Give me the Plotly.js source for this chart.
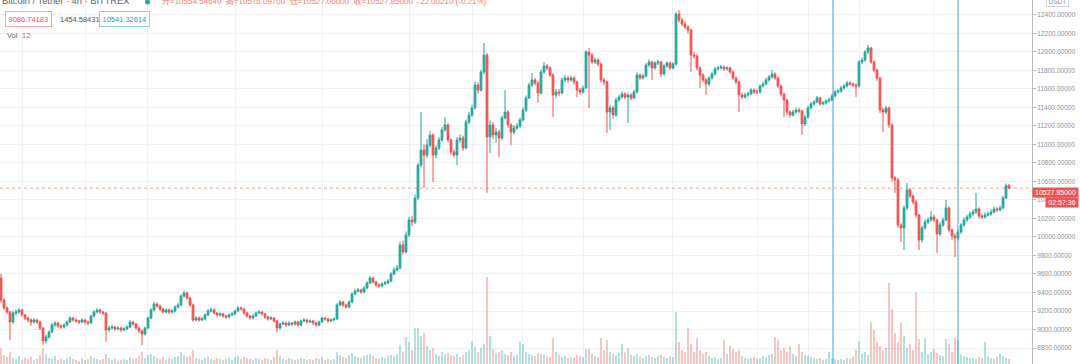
<!DOCTYPE html>
<html><head><meta charset="utf-8">
<script src="https://cdn.plot.ly/plotly-3.0.1.min.js"></script>
<style>html,body{margin:0;padding:0;background:#fff;overflow:hidden}#chart{width:1080px;height:364px}</style>
</head><body><div id="chart"></div>
<script>
// ---- data (BTC/USDT 4h, Bittrex) ----
const openP = [
9557,9319,9232,9189,9081,9178,9189,9211,9157,9124,
9103,9081,9103,9081,9016,8876,8919,8973,9049,9070,
9038,9027,9049,9081,9124,9103,9092,9081,9103,9081,
9070,9146,9189,9211,9189,9178,8995,9016,9027,9006,
9016,8995,9006,9027,9081,9059,9016,8984,8951,9016,
9124,9211,9276,9254,9222,9189,9211,9189,9200,9243,
9265,9362,9395,9341,9265,9103,9124,9103,9114,9157,
9200,9211,9178,9157,9168,9146,9135,9157,9168,9200,
9232,9222,9178,9146,9124,9146,9178,9189,9168,9135,
9114,9124,9092,9016,9059,9070,9049,9070,9059,9081,
9049,9092,9103,9081,9092,9070,9049,9081,9124,9114,
9092,9103,9114,9265,9297,9265,9243,9297,9384,9416,
9427,9405,9449,9503,9557,9514,9481,9470,9492,9503,
9524,9600,9643,9665,9914,9838,10022,10184,10162,10422,
10778,10941,10886,10994,11103,10886,10962,11049,11157,11211,
11049,10919,10886,11049,11070,10962,11243,11319,11395,11643,
11589,11784,11967,11081,11211,11103,11135,11070,11286,11351,
11211,11135,11178,11200,11265,11373,11503,11643,11697,11665,
11557,11784,11849,11827,11751,11535,11568,11557,11697,11719,
11697,11719,11676,11589,11568,11611,11999,11967,11892,11913,
11870,11697,11676,11351,11395,11319,11481,11513,11546,11513,
11535,11503,11568,11751,11719,11740,11859,11892,11827,11881,
11892,11762,11849,11881,11827,11870,12411,12346,12303,12270,
12238,11967,11957,11827,11751,11697,11654,11719,11762,11816,
11827,11838,11816,11827,11784,11719,11676,11535,11513,11535,
11546,11589,11568,11568,11632,11654,11697,11730,11762,11719,
11632,11546,11481,11351,11319,11351,11373,11362,11222,11297,
11395,11438,11459,11503,11438,11449,11470,11481,11524,11568,
11578,11611,11632,11665,11654,11643,11632,11892,11913,11999,
12043,11892,11805,11719,11373,11351,11395,11211,10638,10616,
10130,10097,10314,10508,10443,10378,10238,9968,10097,10162,
10184,10216,10184,10033,10130,10184,10314,10076,10011,9989,
10054,10130,10184,10216,10249,10270,10303,10227,10216,10238,
10249,10270,10303,10292,10314,10422,10554.54649];

const highP = [
9600,9340,9250,9200,9200,9215,9235,9225,9170,9140,
9120,9125,9115,9095,9030,8945,8990,9070,9090,9085,
9055,9065,9100,9140,9135,9118,9105,9120,9110,9095,
9160,9205,9230,9225,9200,9185,9040,9045,9040,9035,
9030,9025,9045,9100,9095,9070,9030,9000,9030,9140,
9230,9300,9290,9270,9235,9230,9225,9220,9260,9290,
9380,9420,9410,9355,9280,9145,9140,9135,9175,9220,
9235,9225,9190,9185,9180,9160,9175,9190,9215,9255,
9250,9235,9190,9160,9165,9195,9210,9200,9180,9150,
9145,9135,9105,9075,9090,9085,9088,9082,9098,9092,
9108,9122,9115,9110,9105,9082,9098,9140,9138,9125,
9120,9132,9285,9320,9310,9280,9315,9400,9440,9450,
9440,9470,9520,9580,9570,9530,9500,9510,9525,9545,
9620,9670,9700,9950,9960,10060,10220,10230,10460,10800,
11351,11000,11060,11150,11120,10990,11080,11190,11297,11230,
11065,10945,11080,11110,11095,11270,11350,11430,11680,11670,
11810,12097,11990,11260,11240,11180,11160,11310,11589,11370,
11230,11210,11230,11290,11400,11530,11670,11773,11720,11680,
11810,11892,11870,11845,11770,11600,11600,11720,11750,11740,
11745,11735,11690,11610,11640,12020,12043,11990,11940,11930,
11885,11720,11690,11430,11420,11505,11540,11575,11565,11560,
11555,11590,11780,11770,11765,11880,11920,11905,11900,11915,
11905,11870,11900,11895,11890,12430,12454,12370,12330,12290,
12250,12000,11975,11845,11770,11720,11740,11785,11840,11850,
11860,11855,11845,11840,11800,11735,11690,11560,11560,11570,
11610,11605,11595,11650,11680,11720,11750,11805,11780,11735,
11650,11560,11495,11370,11375,11400,11395,11380,11320,11420,
11460,11480,11525,11515,11470,11490,11505,11545,11590,11600,
11635,11655,11690,11685,11670,11660,11910,11940,12020,12076,
12055,11910,11820,11730,11400,11420,11410,11230,10660,10640,
10150,10340,10584,10530,10460,10400,10250,10120,10190,10215,
10280,10240,10200,10160,10210,10400,10330,10090,10040,10080,
10150,10210,10240,10275,10300,10476,10320,10250,10265,10275,
10300,10330,10325,10340,10445,10580,10576.097];

const lowP = [
9290,9210,9170,8887,9060,9150,9170,9140,9100,9080,
9040,9065,9060,8995,8833,8850,8900,8960,9030,9015,
9005,9010,9035,9070,9085,9075,9060,9070,9055,9045,
9060,9130,9175,9170,9160,8865,8975,9000,8985,8990,
8975,8980,8990,9015,9040,9000,8960,8833,8935,9005,
9110,9195,9235,9200,9170,9175,9165,9175,9185,9230,
9250,9345,9320,9245,9085,9090,9085,9090,9100,9145,
9185,9160,9140,9140,9125,9115,9120,9145,9155,9190,
9205,9160,9125,9105,9110,9135,9165,9150,9115,9095,
9100,9075,8973,9000,9045,9030,9035,9040,9045,9030,
9035,9080,9065,9070,9050,9030,9035,9070,9098,9075,
9078,9090,9105,9250,9245,9225,9230,9285,9370,9400,
9385,9390,9435,9490,9495,9460,9450,9455,9480,9490,
9510,9585,9625,9650,9810,9820,10000,10120,10140,10400,
10750,10530,10860,10970,10595,10850,10940,11030,11140,11020,
10890,10860,10778,11020,10930,10950,11220,11300,11380,11550,
11570,11760,10476,10908,11060,11020,10865,11050,11270,11180,
10994,11110,11160,11180,11250,11355,11490,11620,11640,11450,
11540,11765,11800,11730,11297,11500,11520,11540,11675,11670,
11680,11650,11513,11540,11550,11600,11395,11870,11870,11845,
11670,11640,11124,11157,11280,11300,11460,11495,11490,11232,
11480,11490,11550,11700,11700,11725,11840,11697,11810,11860,
11730,11745,11830,11805,11810,11855,12320,12280,12245,12200,
11784,11930,11800,11611,11670,11535,11630,11700,11745,11800,
11810,11795,11800,11765,11700,11650,11351,11490,11495,11515,
11530,11545,11545,11550,11615,11640,11680,11715,11700,11610,
11520,11297,11320,11290,11300,11335,11340,11103,11200,11280,
11380,11420,11445,11420,11425,11430,11455,11465,11510,11550,
11560,11595,11615,11630,11620,11513,11620,11870,11895,11980,
11870,11780,11690,11340,11135,11330,11180,10600,10476,10100,
9946,9860,10290,10420,10350,10210,9860,9940,10080,10140,
10165,10160,9827,10010,10110,10170,10050,9970,9784,9960,
10030,10110,10165,10195,10230,10250,10200,10195,10200,10220,
10230,10255,10270,10275,10300,10410,10527];

const closeP = [
9319,9232,9189,9081,9178,9189,9211,9157,9124,9103,
9081,9103,9081,9016,8876,8919,8973,9049,9070,9038,
9027,9049,9081,9124,9103,9092,9081,9103,9081,9070,
9146,9189,9211,9189,9178,8995,9016,9027,9006,9016,
8995,9006,9027,9081,9059,9016,8984,8951,9016,9124,
9211,9276,9254,9222,9189,9211,9189,9200,9243,9265,
9362,9395,9341,9265,9103,9124,9103,9114,9157,9200,
9211,9178,9157,9168,9146,9135,9157,9168,9200,9232,
9222,9178,9146,9124,9146,9178,9189,9168,9135,9114,
9124,9092,9016,9059,9070,9049,9070,9059,9081,9049,
9092,9103,9081,9092,9070,9049,9081,9124,9114,9092,
9103,9114,9265,9297,9265,9243,9297,9384,9416,9427,
9405,9449,9503,9557,9514,9481,9470,9492,9503,9524,
9600,9643,9665,9914,9838,10022,10184,10162,10422,10778,
10941,10886,10994,11103,10886,10962,11049,11157,11211,11049,
10919,10886,11049,11070,10962,11243,11319,11395,11643,11589,
11784,11967,11081,11211,11103,11135,11070,11286,11351,11211,
11135,11178,11200,11265,11373,11503,11643,11697,11665,11557,
11784,11849,11827,11751,11535,11568,11557,11697,11719,11697,
11719,11676,11589,11568,11611,11999,11967,11892,11913,11870,
11697,11676,11351,11395,11319,11481,11513,11546,11513,11535,
11503,11568,11751,11719,11740,11859,11892,11827,11881,11892,
11762,11849,11881,11827,11870,12411,12346,12303,12270,12238,
11967,11957,11827,11751,11697,11654,11719,11762,11816,11827,
11838,11816,11827,11784,11719,11676,11535,11513,11535,11546,
11589,11568,11568,11632,11654,11697,11730,11762,11719,11632,
11546,11481,11351,11319,11351,11373,11362,11222,11297,11395,
11438,11459,11503,11438,11449,11470,11481,11524,11568,11578,
11611,11632,11665,11654,11643,11632,11892,11913,11999,12043,
11892,11805,11719,11373,11351,11395,11211,10638,10616,10130,
10097,10314,10508,10443,10378,10238,9968,10097,10162,10184,
10216,10184,10033,10130,10184,10314,10076,10011,9989,10054,
10130,10184,10216,10249,10270,10303,10227,10216,10238,10249,
10270,10303,10292,10314,10422,10554.54649,10527.85];

const volume = [
16,9,7,12,6,5,8,4,6,5,
7,4,5,9,16,10,6,5,8,4,
5,4,6,7,5,4,3,6,4,5,
8,6,5,4,5,10,6,4,5,3,
4,5,4,7,5,6,8,12,6,9,
10,8,6,5,7,4,6,5,7,8,
12,9,7,8,14,6,5,4,6,7,
5,4,6,5,4,5,6,4,7,8,
5,7,6,5,4,6,5,4,6,5,
4,7,14,8,5,4,6,5,4,5,
6,5,4,5,4,6,5,7,4,5,
4,5,12,9,7,6,9,11,8,7,
6,8,9,10,8,6,5,7,6,8,
9,8,10,19,12,27,22,14,36,36,
28,31,18,14,16,10,8,12,10,11,
9,8,10,7,9,12,14,23,17,12,
16,20,87,28,15,11,12,14,10,9,
12,8,9,22,20,12,10,9,8,11,
10,9,8,7,26,12,9,7,8,6,
7,6,9,8,7,15,15,10,8,7,
26,14,24,12,10,9,11,20,12,16,
9,8,10,7,6,8,9,7,6,8,
9,7,6,8,7,52,22,14,12,36,
20,12,26,14,10,12,8,6,7,5,
6,24,10,18,15,12,14,8,6,5,
6,7,5,6,8,7,9,10,27,24,
14,16,12,18,10,8,20,12,9,8,
7,6,5,6,4,5,12,6,5,4,
5,4,6,5,7,14,23,10,12,9,
42,34,22,18,14,16,81,55,31,22,
41,28,16,20,14,72,25,12,26,10,
12,15,11,9,8,25,20,12,26,24,
10,8,7,6,6,5,7,6,22,8,
6,5,7,10,8,6,5];

const barIndex = closeP.map((_, i) => i);
const gridX = [7, 28.3, 48.7, 78, 107.3, 136, 157, 173.7, 194.3, 223.7, 252.3, 269, 286, 310.7];
const markerLines = [277.33, 319];
const lastPrice = 10527.85;

const UP = '#26a69a', DOWN = '#ef5350';
const FONT = 'Arial, "Liberation Sans", "Noto Sans CJK SC", sans-serif';
const PW = 1032, PH = 364;
const px = v => v / PW, py = v => 1 - v / PH;

const volColors = closeP.map((c, i) => c >= openP[i] ? 'rgba(38,166,154,0.5)' : 'rgba(239,83,80,0.5)');

const traces = [
  {
    type: 'candlestick', x: barIndex, open: openP, high: highP, low: lowP, close: closeP,
    increasing: {line: {color: UP, width: 1}, fillcolor: UP},
    decreasing: {line: {color: DOWN, width: 1}, fillcolor: DOWN},
    whiskerwidth: 0, hoverinfo: 'skip', xaxis: 'x', yaxis: 'y'
  },
  {
    type: 'bar', x: barIndex, y: volume, yaxis: 'y2', width: 0.45,
    marker: {color: volColors, line: {width: 0}}, hoverinfo: 'skip'
  }
];

const shapes = markerLines.map(v => ({
  type: 'line', xref: 'x', yref: 'paper', x0: v, x1: v, y0: 0, y1: 1,
  line: {color: '#45a3cf', width: 1}
}));
shapes.push({type: 'line', xref: 'paper', yref: 'y', x0: 0, x1: 1, y0: lastPrice, y1: lastPrice,
  line: {color: 'rgba(239,83,80,0.55)', width: 1, dash: 'dot'}});
shapes.push({type: 'circle', xref: 'paper', yref: 'paper', x0: px(145), x1: px(150), y0: py(4.5), y1: py(-0.5),
  fillcolor: UP, line: {width: 0}});

const ann = (text, x, y, opt) => Object.assign({
  text: text, xref: 'paper', yref: 'paper', x: px(x), y: py(y), xanchor: 'left', yanchor: 'middle',
  showarrow: false, font: {family: FONT, size: 8.5, color: '#6a6d78'}
}, opt || {});

const annotations = [
  ann('Bitcoin / Tether · 4h · BITTREX', 0, 1.5, {font: {family: FONT, size: 9.3, color: '#5d606b'}}),
  ann('开=10554.54649  高=10576.09700  低=10527.00000  收=10527.85000  -22.00210 (-0.21%)', 160, 1.5,
      {font: {family: FONT, size: 8, color: '#f07a78'}}),
  ann('9086.74183', 5, 19, {font: {family: FONT, size: 7.5, color: '#ef5350'}, bordercolor: '#f4a9a8', borderwidth: 1, borderpad: 2.5, bgcolor: '#fff'}),
  ann('1454.58431', 58, 19, {font: {family: FONT, size: 7.5, color: '#50535e'}}),
  ann('10541.32614', 99, 19, {font: {family: FONT, size: 7.5, color: '#2196f3'}, bordercolor: '#94c8ef', borderwidth: 1, borderpad: 2.5, bgcolor: '#fff'}),
  ann('Vol', 5, 35, {font: {family: FONT, size: 7.5, color: '#6a6d78'}}),
  ann('12', 20, 35, {font: {family: FONT, size: 7.5, color: '#ef5350'}}),
  ann('USDT', 1046, 1, {font: {family: FONT, size: 6.5, color: '#8c8f98'}, bordercolor: '#d1d4dc', borderwidth: 1, borderpad: 1.5, bgcolor: '#fff'}),
  ann('10527.85000', 1032, 192.5, {font: {family: FONT, size: 7, color: '#ffffff'}, bgcolor: '#ef5350', borderpad: 1, width: 43, height: 7, align: 'center'}),
  ann('02:57:36', 1045, 202.5, {font: {family: FONT, size: 7, color: '#ffffff'}, bgcolor: '#ef5350', borderpad: 1, width: 30, height: 7, align: 'center'})
];

const layout = {
  width: 1080, height: 364, margin: {l: 0, r: 48, t: 0, b: 0, pad: 0},
  paper_bgcolor: '#ffffff', plot_bgcolor: '#ffffff', showlegend: false,
  boxgap: 0.15,
  xaxis: {range: [-1/3, 343 + 2/3], showticklabels: false, ticks: '', tickmode: 'array', tickvals: gridX,
    showgrid: true, gridcolor: '#eef0f4', gridwidth: 1, zeroline: false, showline: false,
    rangeslider: {visible: false}, fixedrange: true},
  yaxis: {side: 'right', range: [8627, 12562], tick0: 8800, dtick: 200, tickformat: '.5f',
    showgrid: true, gridcolor: '#eef0f4', gridwidth: 1, zeroline: false,
    showline: true, linecolor: '#b7bac1', linewidth: 1, ticks: 'outside', ticklen: 3, tickcolor: '#b7bac1',
    tickfont: {family: FONT, size: 6.5, color: '#8c8f98'}, fixedrange: true},
  yaxis2: {overlaying: 'y', range: [0, 364], visible: false, fixedrange: true},
  shapes: shapes, annotations: annotations
};

Plotly.newPlot('chart', traces, layout, {staticPlot: true, displayModeBar: false});
</script></body></html>
